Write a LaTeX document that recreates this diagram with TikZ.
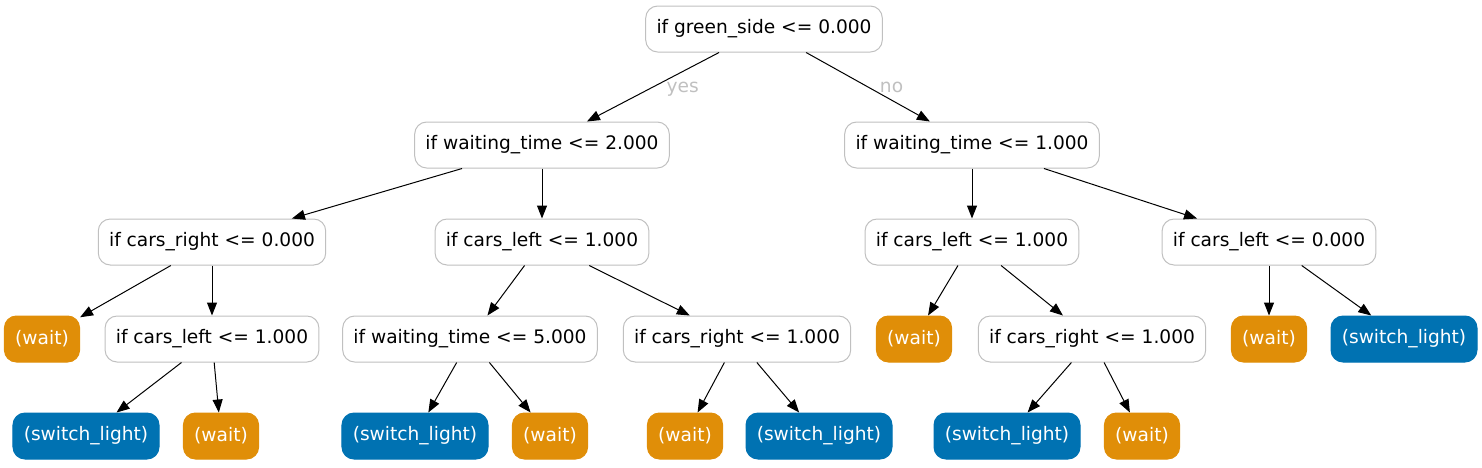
\documentclass[tikz,border=0pt]{standalone}
\usepackage{fontspec}
\setmainfont{DejaVu Sans}
\usetikzlibrary{arrows.meta}
\definecolor{edgegray}{RGB}{192,192,192}
\definecolor{waitorange}{RGB}{224,142,8}
\definecolor{switchblue}{RGB}{0,114,178}
\begin{document}
\begin{tikzpicture}[
  x=0.5pt,y=-0.5pt,
  font=\fontsize{9.3pt}{11pt}\selectfont,
  test/.style={draw=edgegray,line width=.5pt,rounded corners=6pt,fill=white,
               minimum height=23pt,inner xsep=5.4pt,inner ysep=0pt},
  leaf/.style={test,text=white},
  wait/.style={leaf,draw=waitorange,fill=waitorange},
  switch/.style={leaf,draw=switchblue,fill=switchblue},
  arr/.style={draw=black,line width=.5pt,-{Triangle[length=6.5pt,width=5pt]}},
  lbl/.style={text=edgegray,inner sep=0pt}
]
\useasboundingbox (0,0) rectangle (1482,467);
% splits
\node[test] (root) at (764,29) {if green\_side <= 0.000};
\node[test] (wtL) at (542,145) {if waiting\_time <= 2.000};
\node[test] (wtR) at (972,145) {if waiting\_time <= 1.000};
\node[test] (crL) at (212,242) {if cars\_right <= 0.000};
\node[test] (clL) at (542,242) {if cars\_left <= 1.000};
\node[test] (clR) at (972,242) {if cars\_left <= 1.000};
\node[test] (clRR) at (1269,242) {if cars\_left <= 0.000};
\node[wait] (w1) at (42,339) {(wait)};
\node[test] (cl2) at (212,339) {if cars\_left <= 1.000};
\node[test] (wt5) at (470,339) {if waiting\_time <= 5.000};
\node[test] (cr1) at (737,339) {if cars\_right <= 1.000};
\node[wait] (w2) at (914,339) {(wait)};
\node[test] (cr2) at (1092,339) {if cars\_right <= 1.000};
\node[wait] (w3) at (1269,339) {(wait)};
\node[switch] (s1) at (1404,339) {(switch\_light)};
% bottom leaves
\node[switch] (s2) at (86,436) {(switch\_light)};
\node[wait] (w4) at (221,436) {(wait)};
\node[switch] (s3) at (415,436) {(switch\_light)};
\node[wait] (w5) at (550,436) {(wait)};
\node[wait] (w6) at (685,436) {(wait)};
\node[switch] (s4) at (819,436) {(switch\_light)};
\node[switch] (s5) at (1007,436) {(switch\_light)};
\node[wait] (w7) at (1142,436) {(wait)};
% edges
\draw[arr] (root) -- node[lbl,pos=.48,xshift=13.5pt,yshift=-2pt] {yes} (wtL);
\draw[arr] (root) -- node[lbl,pos=.48,xshift=13pt,yshift=-1pt] {no} (wtR);
\draw[arr] (wtL) -- (crL); \draw[arr] (wtL) -- (clL);
\draw[arr] (wtR) -- (clR); \draw[arr] (wtR) -- (clRR);
\draw[arr] (crL) -- (w1); \draw[arr] (crL) -- (cl2);
\draw[arr] (clL) -- (wt5); \draw[arr] (clL) -- (cr1);
\draw[arr] (clR) -- (w2); \draw[arr] (clR) -- (cr2);
\draw[arr] (clRR) -- (w3); \draw[arr] (clRR) -- (s1);
\draw[arr] (cl2) -- (s2); \draw[arr] (cl2) -- (w4);
\draw[arr] (wt5) -- (s3); \draw[arr] (wt5) -- (w5);
\draw[arr] (cr1) -- (w6); \draw[arr] (cr1) -- (s4);
\draw[arr] (cr2) -- (s5); \draw[arr] (cr2) -- (w7);
\end{tikzpicture}
\end{document}
